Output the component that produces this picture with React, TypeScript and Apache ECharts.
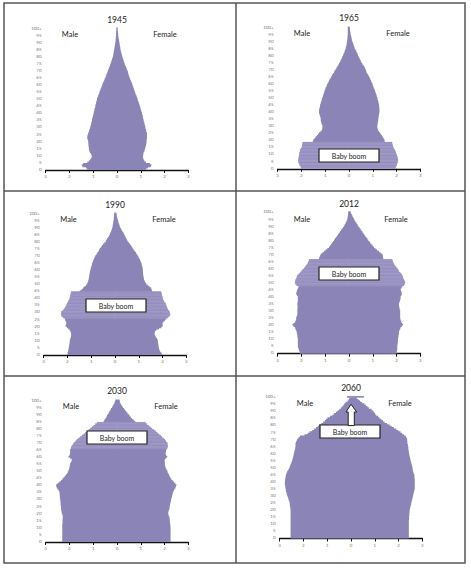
import React, { useEffect, useRef } from "react";
import * as echarts from "echarts";

const AGES: string[] = Array.from({ length: 101 }, (_, i) => (i === 100 ? "100+" : String(i)));
const YEARS = ["1945", "1965", "1990", "2012", "2030", "2060"];
const BOOM_LABEL = "Baby boom";

// ages 0..100+ (percent of population)
const male1945 = [
  1.25, 1.3, 1.45, 1.48, 1.42, 1.25, 1.18, 1.12, 1.08, 1.06,
  1.07, 1.1, 1.14, 1.16, 1.18, 1.18, 1.19, 1.2, 1.2, 1.21,
  1.21, 1.23, 1.25, 1.25, 1.24, 1.22, 1.2, 1.18, 1.16, 1.14,
  1.12, 1.11, 1.09, 1.08, 1.06, 1.05, 1.04, 1.02, 1.01, 0.99,
  0.98, 0.97, 0.95, 0.94, 0.92, 0.91, 0.9, 0.88, 0.87, 0.85,
  0.84, 0.82, 0.8, 0.77, 0.75, 0.73, 0.71, 0.69, 0.66, 0.64,
  0.62, 0.6, 0.57, 0.54, 0.52, 0.49, 0.47, 0.45, 0.42, 0.4,
  0.38, 0.36, 0.33, 0.31, 0.29, 0.27, 0.25, 0.23, 0.21, 0.19,
  0.17, 0.16, 0.15, 0.14, 0.13, 0.12, 0.11, 0.1, 0.09, 0.08,
  0.07, 0.06, 0.06, 0.05, 0.05, 0.04, 0.04, 0.04, 0.03, 0.03,
  0.03,
];
const female1945 = [
  1.22, 1.3, 1.42, 1.45, 1.38, 1.22, 1.15, 1.12, 1.1, 1.09,
  1.1, 1.11, 1.12, 1.15, 1.17, 1.19, 1.2, 1.22, 1.23, 1.24,
  1.24, 1.25, 1.26, 1.26, 1.26, 1.26, 1.25, 1.23, 1.22, 1.2,
  1.19, 1.18, 1.16, 1.15, 1.13, 1.12, 1.1, 1.09, 1.08, 1.06,
  1.05, 1.03, 1.01, 0.99, 0.98, 0.96, 0.94, 0.92, 0.9, 0.88,
  0.86, 0.84, 0.82, 0.79, 0.77, 0.75, 0.73, 0.71, 0.69, 0.67,
  0.65, 0.63, 0.6, 0.58, 0.55, 0.53, 0.51, 0.49, 0.47, 0.46,
  0.44, 0.42, 0.39, 0.37, 0.34, 0.32, 0.3, 0.28, 0.26, 0.24,
  0.22, 0.21, 0.19, 0.18, 0.16, 0.15, 0.14, 0.13, 0.12, 0.11,
  0.1, 0.09, 0.08, 0.07, 0.06, 0.05, 0.05, 0.04, 0.04, 0.03,
  0.03,
];
const male1965 = [
  2.0, 2.03, 2.07, 2.09, 2.12, 2.13, 2.13, 2.12, 2.11, 2.1,
  2.09, 2.08, 2.06, 2.05, 2.02, 1.98, 1.97, 1.96, 1.95, 1.52,
  1.5, 1.45, 1.4, 1.35, 1.3, 1.26, 1.2, 1.14, 1.12, 1.12,
  1.12, 1.14, 1.16, 1.18, 1.19, 1.19, 1.2, 1.22, 1.24, 1.26,
  1.26, 1.26, 1.25, 1.23, 1.22, 1.21, 1.19, 1.17, 1.15, 1.14,
  1.12, 1.1, 1.08, 1.06, 1.04, 1.02, 1.0, 0.98, 0.95, 0.93,
  0.9, 0.87, 0.84, 0.81, 0.77, 0.74, 0.71, 0.67, 0.63, 0.6,
  0.56, 0.53, 0.49, 0.46, 0.42, 0.39, 0.36, 0.33, 0.3, 0.28,
  0.25, 0.23, 0.2, 0.18, 0.16, 0.14, 0.13, 0.11, 0.1, 0.09,
  0.08, 0.07, 0.07, 0.06, 0.06, 0.05, 0.05, 0.05, 0.05, 0.05,
  0.05,
];
const female1965 = [
  1.95, 1.98, 2.0, 2.02, 2.04, 2.06, 2.06, 2.05, 2.03, 2.01,
  1.99, 1.97, 1.95, 1.92, 1.89, 1.86, 1.84, 1.82, 1.81, 1.5,
  1.49, 1.46, 1.42, 1.38, 1.34, 1.3, 1.26, 1.22, 1.2, 1.19,
  1.19, 1.2, 1.21, 1.22, 1.23, 1.23, 1.24, 1.25, 1.26, 1.27,
  1.28, 1.28, 1.28, 1.27, 1.27, 1.26, 1.25, 1.23, 1.22, 1.2,
  1.19, 1.17, 1.15, 1.13, 1.11, 1.09, 1.07, 1.04, 1.02, 1.0,
  0.98, 0.95, 0.92, 0.9, 0.87, 0.84, 0.81, 0.77, 0.74, 0.72,
  0.7, 0.67, 0.64, 0.6, 0.56, 0.53, 0.5, 0.47, 0.44, 0.41,
  0.38, 0.36, 0.33, 0.3, 0.27, 0.24, 0.22, 0.2, 0.18, 0.16,
  0.14, 0.12, 0.11, 0.1, 0.08, 0.07, 0.06, 0.05, 0.04, 0.04,
  0.03,
];
const male1990 = [
  2.0, 1.99, 1.97, 1.96, 1.95, 1.94, 1.93, 1.92, 1.91, 1.9,
  1.9, 1.88, 1.86, 1.85, 1.84, 1.85, 1.87, 1.9, 1.96, 2.02,
  2.08, 2.06, 2.04, 2.06, 2.09, 2.11, 2.18, 2.24, 2.27, 2.26,
  2.25, 2.2, 2.15, 2.1, 2.07, 2.04, 2.02, 1.98, 1.95, 1.92,
  1.9, 1.89, 1.88, 1.86, 1.85, 1.48, 1.4, 1.34, 1.28, 1.22,
  1.17, 1.15, 1.13, 1.11, 1.1, 1.09, 1.08, 1.07, 1.06, 1.05,
  1.03, 1.02, 1.0, 0.98, 0.97, 0.95, 0.93, 0.9, 0.88, 0.85,
  0.82, 0.78, 0.74, 0.7, 0.67, 0.64, 0.59, 0.55, 0.5, 0.45,
  0.39, 0.37, 0.33, 0.29, 0.25, 0.22, 0.2, 0.17, 0.15, 0.13,
  0.11, 0.1, 0.09, 0.08, 0.07, 0.06, 0.05, 0.05, 0.04, 0.04,
  0.03,
];
const female1990 = [
  1.97, 1.95, 1.9, 1.87, 1.85, 1.84, 1.83, 1.82, 1.81, 1.8,
  1.8, 1.77, 1.73, 1.7, 1.67, 1.66, 1.68, 1.73, 1.85, 1.95,
  2.0, 2.0, 2.0, 2.04, 2.1, 2.15, 2.22, 2.28, 2.32, 2.31,
  2.29, 2.26, 2.22, 2.19, 2.17, 2.15, 2.12, 2.08, 2.05, 2.02,
  2.0, 1.99, 1.97, 1.96, 1.94, 1.56, 1.54, 1.52, 1.45, 1.38,
  1.31, 1.28, 1.25, 1.22, 1.21, 1.2, 1.19, 1.18, 1.18, 1.17,
  1.17, 1.16, 1.15, 1.13, 1.12, 1.1, 1.08, 1.05, 1.02, 0.99,
  0.96, 0.92, 0.88, 0.84, 0.79, 0.75, 0.72, 0.68, 0.64, 0.59,
  0.54, 0.51, 0.48, 0.45, 0.42, 0.39, 0.36, 0.32, 0.29, 0.25,
  0.22, 0.2, 0.18, 0.16, 0.14, 0.13, 0.11, 0.09, 0.08, 0.07,
  0.06,
];
const male2012 = [
  2.06, 2.08, 2.1, 2.12, 2.14, 2.15, 2.15, 2.15, 2.15, 2.15,
  2.15, 2.16, 2.17, 2.18, 2.19, 2.2, 2.22, 2.25, 2.27, 2.33,
  2.38, 2.33, 2.27, 2.24, 2.22, 2.22, 2.2, 2.18, 2.17, 2.17,
  2.17, 2.17, 2.16, 2.16, 2.17, 2.17, 2.16, 2.15, 2.15, 2.15,
  2.15, 2.19, 2.22, 2.21, 2.19, 2.17, 2.14, 2.12, 2.2, 2.25,
  2.27, 2.26, 2.24, 2.21, 2.19, 2.17, 2.11, 2.05, 2.0, 1.95,
  1.89, 1.85, 1.8, 1.75, 1.72, 1.7, 1.68, 1.26, 1.24, 1.21,
  1.19, 1.12, 1.05, 0.98, 0.91, 0.84, 0.8, 0.76, 0.71, 0.67,
  0.63, 0.59, 0.55, 0.5, 0.46, 0.42, 0.38, 0.34, 0.3, 0.25,
  0.21, 0.18, 0.15, 0.12, 0.09, 0.07, 0.06, 0.05, 0.04, 0.04,
  0.03,
];
const female2012 = [
  2.0, 2.01, 2.02, 2.03, 2.03, 2.03, 2.04, 2.05, 2.05, 2.06,
  2.06, 2.07, 2.08, 2.09, 2.1, 2.1, 2.12, 2.15, 2.17, 2.22,
  2.27, 2.24, 2.2, 2.18, 2.16, 2.15, 2.15, 2.15, 2.15, 2.15,
  2.15, 2.13, 2.12, 2.11, 2.1, 2.1, 2.12, 2.14, 2.16, 2.17,
  2.17, 2.2, 2.22, 2.21, 2.19, 2.17, 2.2, 2.24, 2.3, 2.34,
  2.36, 2.34, 2.31, 2.28, 2.26, 2.24, 2.2, 2.15, 2.1, 2.06,
  2.03, 1.98, 1.93, 1.89, 1.86, 1.84, 1.82, 1.44, 1.43, 1.42,
  1.4, 1.33, 1.26, 1.18, 1.11, 1.05, 1.0, 0.95, 0.9, 0.86,
  0.81, 0.77, 0.73, 0.68, 0.64, 0.6, 0.56, 0.52, 0.48, 0.44,
  0.39, 0.36, 0.32, 0.28, 0.24, 0.21, 0.18, 0.15, 0.12, 0.09,
  0.07,
];
const male2030 = [
  2.3, 2.3, 2.3, 2.3, 2.3, 2.3, 2.3, 2.3, 2.3, 2.3,
  2.3, 2.3, 2.3, 2.29, 2.29, 2.29, 2.28, 2.28, 2.28, 2.3,
  2.32, 2.33, 2.34, 2.35, 2.35, 2.36, 2.37, 2.37, 2.38, 2.38,
  2.39, 2.4, 2.4, 2.41, 2.41, 2.42, 2.45, 2.49, 2.53, 2.55,
  2.56, 2.5, 2.42, 2.35, 2.3, 2.25, 2.2, 2.15, 2.1, 2.07,
  2.04, 2.02, 2.0, 1.99, 1.98, 1.97, 1.94, 1.91, 1.9, 1.97,
  2.04, 2.0, 1.97, 1.97, 1.97, 1.97, 1.94, 1.92, 1.88, 1.84,
  1.8, 1.74, 1.69, 1.62, 1.54, 1.47, 1.4, 1.33, 1.26, 1.19,
  1.12, 1.05, 0.98, 0.91, 0.84, 0.56, 0.53, 0.49, 0.45, 0.42,
  0.39, 0.35, 0.32, 0.28, 0.25, 0.21, 0.18, 0.14, 0.11, 0.09,
  0.07,
];
const female2030 = [
  2.25, 2.25, 2.25, 2.25, 2.25, 2.25, 2.25, 2.25, 2.25, 2.25,
  2.25, 2.24, 2.24, 2.23, 2.22, 2.22, 2.21, 2.2, 2.18, 2.16,
  2.15, 2.16, 2.18, 2.2, 2.21, 2.22, 2.23, 2.24, 2.26, 2.27,
  2.28, 2.3, 2.31, 2.33, 2.34, 2.36, 2.39, 2.42, 2.46, 2.48,
  2.5, 2.45, 2.39, 2.34, 2.29, 2.25, 2.22, 2.19, 2.16, 2.13,
  2.11, 2.08, 2.05, 2.03, 2.02, 2.01, 2.01, 2.0, 2.01, 2.07,
  2.11, 2.07, 2.04, 2.05, 2.06, 2.08, 2.11, 2.13, 2.13, 2.12,
  2.11, 2.06, 2.01, 1.95, 1.89, 1.83, 1.76, 1.69, 1.62, 1.55,
  1.47, 1.4, 1.33, 1.26, 1.2, 0.77, 0.7, 0.63, 0.58, 0.53,
  0.49, 0.44, 0.39, 0.34, 0.3, 0.25, 0.22, 0.17, 0.14, 0.12,
  0.11,
];
const male2060 = [
  2.54, 2.54, 2.54, 2.54, 2.54, 2.54, 2.54, 2.54, 2.54, 2.54,
  2.54, 2.54, 2.54, 2.54, 2.54, 2.54, 2.54, 2.54, 2.54, 2.54,
  2.54, 2.55, 2.56, 2.57, 2.57, 2.58, 2.6, 2.62, 2.64, 2.66,
  2.68, 2.7, 2.71, 2.73, 2.74, 2.75, 2.76, 2.77, 2.78, 2.78,
  2.78, 2.77, 2.76, 2.75, 2.74, 2.73, 2.7, 2.68, 2.64, 2.61,
  2.58, 2.56, 2.54, 2.51, 2.49, 2.47, 2.45, 2.44, 2.42, 2.41,
  2.4, 2.38, 2.37, 2.35, 2.34, 2.33, 2.33, 2.33, 2.31, 2.28,
  2.26, 2.2, 2.15, 1.95, 1.82, 1.74, 1.63, 1.55, 1.47, 1.4,
  1.34, 1.25, 1.17, 1.1, 1.05, 0.99, 0.88, 0.78, 0.71, 0.63,
  0.56, 0.49, 0.42, 0.37, 0.32, 0.28, 0.23, 0.14, 0.1, 0.07,
  0.17,
];
const female2060 = [
  2.43, 2.43, 2.43, 2.43, 2.43, 2.43, 2.43, 2.43, 2.43, 2.43,
  2.43, 2.43, 2.43, 2.44, 2.44, 2.44, 2.45, 2.45, 2.46, 2.46,
  2.47, 2.48, 2.5, 2.51, 2.53, 2.54, 2.55, 2.57, 2.58, 2.6,
  2.61, 2.62, 2.64, 2.65, 2.67, 2.68, 2.68, 2.68, 2.68, 2.68,
  2.68, 2.68, 2.67, 2.67, 2.66, 2.66, 2.63, 2.61, 2.6, 2.59,
  2.58, 2.56, 2.55, 2.53, 2.52, 2.5, 2.49, 2.48, 2.46, 2.45,
  2.44, 2.43, 2.42, 2.41, 2.41, 2.4, 2.39, 2.37, 2.37, 2.36,
  2.36, 2.33, 2.3, 2.23, 2.15, 2.08, 1.99, 1.9, 1.8, 1.71,
  1.62, 1.51, 1.41, 1.34, 1.27, 1.2, 1.14, 1.06, 1.01, 0.97,
  0.92, 0.86, 0.75, 0.69, 0.62, 0.56, 0.47, 0.38, 0.31, 0.24,
  0.54,
];

const MALES = [male1945, male1965, male1990, male2012, male2030, male2060];
const FEMALES = [female1945, female1965, female1990, female2012, female2030, female2060];
// first and last age of the baby-boom cohort in each year
const BOOM_START = [-1, 0, 26, 48, 66, 100];
const BOOM_END = [-1, 18, 44, 66, 84, 100];

// layout (pixels)
const PANELS = [
  { zero: 117, base: 170, titleY: 20, maleX: 70, femaleX: 165, labY: 34, box: [87, 149] },
  { zero: 349, base: 168.8, titleY: 18, maleX: 302, femaleX: 398, labY: 33, box: [319, 149] },
  { zero: 115, base: 355, titleY: 205, maleX: 68.5, femaleX: 164, labY: 219, box: [86, 299] },
  { zero: 349, base: 353.7, titleY: 204, maleX: 302, femaleX: 396, labY: 219, box: [319, 267] },
  { zero: 117, base: 542, titleY: 391, maleX: 71, femaleX: 166, labY: 406, box: [87, 431] },
  { zero: 351, base: 538.5, titleY: 388, maleX: 305, femaleX: 400, labY: 403, box: [320, 425] },
];
const UNIT = 23.8;
const YEAR_H = 1.41;
const FILL = "#8b84b6";
const FONT = "Lato, 'Open Sans', sans-serif";

function pyramidRenderer(male: number[], female: number[]) {
  return (params: any, api: any) => {
    if (params.dataIndex !== 0) return null;
    const n = male.length;
    const h = Math.abs(api.coord([0, 1])[1] - api.coord([0, 0])[1]);
    const pts: number[][] = [];
    const base = api.coord([0, 0]);
    pts.push([base[0], base[1] + h / 2]);
    for (let a = 0; a < n; a++) {
      const [x, y] = api.coord([-male[a], a]);
      pts.push([x, y + h / 2]);
      pts.push([x, y - h / 2]);
    }
    for (let a = n - 1; a >= 0; a--) {
      const [x, y] = api.coord([female[a], a]);
      pts.push([x, y - h / 2]);
      pts.push([x, y + h / 2]);
    }
    return { type: "polygon", shape: { points: pts }, style: { fill: FILL, stroke: "none" } };
  };
}

export default function App() {
  const ref = useRef<HTMLDivElement>(null);
  useEffect(() => {
    if (!ref.current) return;
    const chart = echarts.init(ref.current, null, { renderer: "svg" });
    const grids: any[] = [];
    const xAxes: any[] = [];
    const yAxes: any[] = [];
    const series: any[] = [];
    const graphics: any[] = [];

    PANELS.forEach((p, i) => {
      const h = YEAR_H * AGES.length;
      grids.push({ left: p.zero - 3 * UNIT, top: p.base - h, width: 6 * UNIT, height: h });
      xAxes.push({
        gridIndex: i, type: "value", min: -3, max: 3, interval: 1,
        axisLine: { show: true, onZero: false, lineStyle: { color: "#111", width: 1.3 } },
        axisTick: { show: true, length: 3, lineStyle: { color: "#111", width: 1 } },
        axisLabel: { fontSize: 4.5, color: "#9a7448", margin: 4, fontFamily: FONT, formatter: (v: number) => String(Math.abs(v)) },
        splitLine: { show: false },
      });
      yAxes.push({
        gridIndex: i, type: "category", data: AGES,
        axisLine: { show: false }, axisTick: { show: false },
        axisLabel: { interval: 4, fontSize: 4.5, color: "#777", margin: 4, fontFamily: FONT },
        splitLine: { show: false },
      });
      series.push({
        type: "custom", name: "Population", xAxisIndex: i, yAxisIndex: i,
        data: [[0, 0]], clip: false, silent: true,
        renderItem: pyramidRenderer(MALES[i], FEMALES[i]),
      });
      const boom = (arr: number[], sign: number) =>
        arr.map((v, a) => (a >= BOOM_START[i] && a <= BOOM_END[i] ? sign * v : "-"));
      const boomStyle = { color: "#8078ad", borderColor: "#b4aed6", borderWidth: 0.45 };
      series.push({
        type: "bar", name: "Male", xAxisIndex: i, yAxisIndex: i,
        data: boom(MALES[i], -1), itemStyle: boomStyle,
        barGap: "-100%", barCategoryGap: "0%", silent: true,
      });
      series.push({
        type: "bar", name: "Female", xAxisIndex: i, yAxisIndex: i,
        data: boom(FEMALES[i], 1), itemStyle: boomStyle,
        barGap: "-100%", barCategoryGap: "0%", silent: true,
      });

      graphics.push({ type: "text", x: p.zero, y: p.titleY, style: { text: YEARS[i], font: `8.5px ${FONT}`, fill: "#222", align: "center", verticalAlign: "middle" } });
      graphics.push({ type: "text", x: p.maleX, y: p.labY, style: { text: "Male", font: `7.5px ${FONT}`, fill: "#222", align: "center", verticalAlign: "middle" } });
      graphics.push({ type: "text", x: p.femaleX, y: p.labY, style: { text: "Female", font: `7.5px ${FONT}`, fill: "#222", align: "center", verticalAlign: "middle" } });
      if (i > 0) {
        const [bx, by] = p.box;
        graphics.push({ type: "rect", z: 100, shape: { x: bx, y: by, width: 60, height: 13 }, style: { fill: "#fff", stroke: "#222", lineWidth: 1.2 } });
        graphics.push({ type: "text", z: 101, x: bx + 30, y: by + 6.7, style: { text: BOOM_LABEL, font: `7px ${FONT}`, fill: "#222", align: "center", verticalAlign: "middle" } });
      }
      if (i === 5) {
        const cx = p.zero;
        graphics.push({
          type: "polygon", z: 102,
          shape: { points: [[cx - 2.8, 425.6], [cx - 2.8, 412], [cx - 5, 412], [cx, 404.3], [cx + 5.7, 412], [cx + 3.3, 412], [cx + 3.3, 425.6]] },
          style: { fill: "#fff", stroke: "#222", lineWidth: 1 },
        });
      }
    });

    graphics.push({ type: "rect", z: 110, shape: { x: 4, y: 3, width: 461, height: 560 }, style: { fill: "none", stroke: "#555", lineWidth: 1.5 } });
    graphics.push({ type: "line", z: 110, shape: { x1: 236, y1: 3, x2: 236, y2: 563 }, style: { stroke: "#555", lineWidth: 1.5 } });
    graphics.push({ type: "line", z: 110, shape: { x1: 4, y1: 191, x2: 465, y2: 191 }, style: { stroke: "#555", lineWidth: 1.5 } });
    graphics.push({ type: "line", z: 110, shape: { x1: 4, y1: 376, x2: 465, y2: 376 }, style: { stroke: "#555", lineWidth: 1.5 } });

    chart.setOption({
      animation: false,
      backgroundColor: "#fff",
      textStyle: { fontFamily: FONT },
      grid: grids,
      xAxis: xAxes,
      yAxis: yAxes,
      series,
      graphic: graphics,
    });
    return () => chart.dispose();
  }, []);
  return <div ref={ref} style={{ position: "absolute", left: 0, top: 0, width: 471, height: 570 }} />;
}
